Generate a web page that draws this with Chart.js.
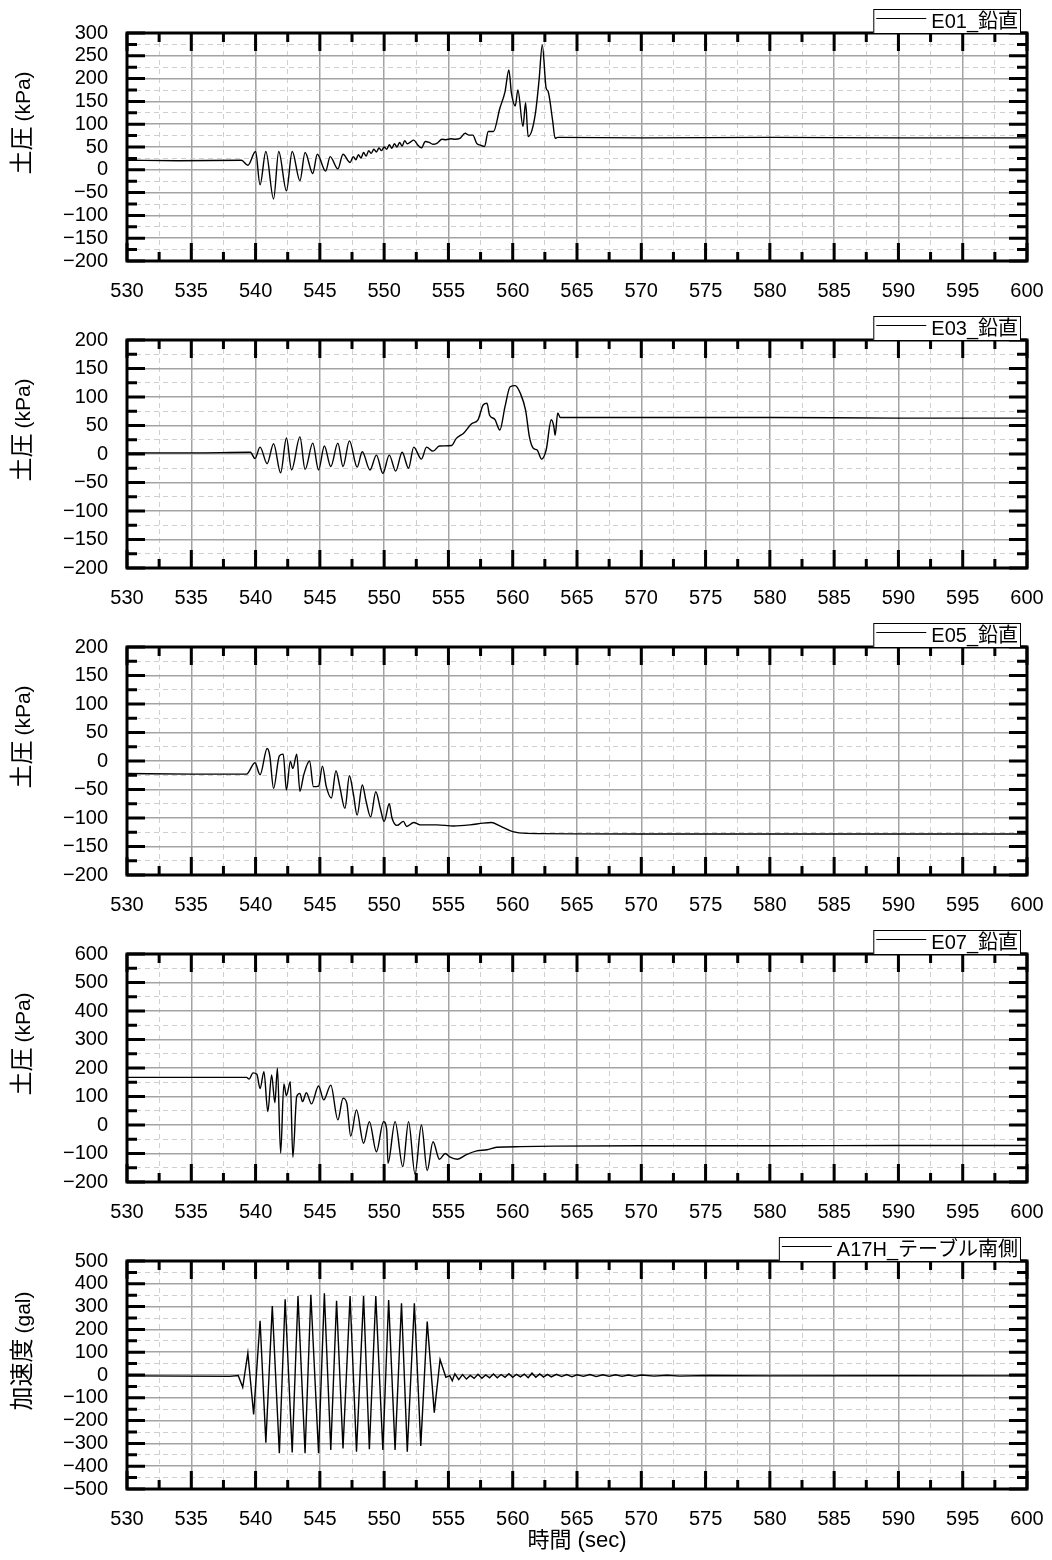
<!DOCTYPE html>
<html lang="ja">
<head>
<meta charset="UTF-8">
<title>土圧・加速度 時刻歴</title>
<script src="https://cdn.jsdelivr.net/npm/chart.js"></script>
<style>
  body { margin: 0; background: #fff; }
  .stack { position: relative; width: 1052px; height: 1560px; }
  .stack canvas { position: absolute; left: 0; }
</style>
</head>
<body>
<div class="stack" id="stack"></div>
<script>
// time window (sec)
const timeMin = 530;
const timeMax = 600;

const seriesLabels = ['E01_鉛直', 'E03_鉛直', 'E05_鉛直', 'E07_鉛直', 'A17H_テーブル南側'];
const axisNames = ['土圧', '土圧', '土圧', '土圧', '加速度'];
const axisUnits = ['(kPa)', '(kPa)', '(kPa)', '(kPa)', '(gal)'];
const yMins = [-200, -200, -200, -200, -500];
const yMaxs = [300, 200, 200, 600, 500];
const yLabelSteps = [50, 50, 50, 100, 100];

// E01 vertical earth pressure
const e01T = [530, 534, 538.9, 539.4, 540.0, 540.35, 540.8, 541.4, 541.8, 542.4, 542.85, 543.45, 543.85, 544.45, 544.8, 545.45, 545.8, 546.4, 546.8, 547.35,
  547.6, 547.8, 548.0, 548.2, 548.4, 548.6, 548.8, 549.0, 549.2, 549.4, 549.6, 549.8, 550.0, 550.2, 550.4, 550.6, 550.8, 551.0, 551.2, 551.4, 551.6, 551.8,
  552.0, 552.3, 552.6, 552.9, 553.2, 553.5, 553.8, 554.1, 554.5, 554.8, 555.2, 555.5, 555.9, 556.3, 556.6, 556.9, 557.2, 557.5, 557.8, 558.1, 558.5,
  559.0, 559.4, 559.7, 559.9, 560.2, 560.4, 560.8, 561.0, 561.2, 561.5, 561.8, 562.05, 562.3, 562.6, 562.75, 563.1, 563.3, 563.5, 570, 580, 590, 600];
const e01V = [21, 20, 21, 10, 40, -33, 40, -64, 40, -46, 40, -24, 38, -8, 34, -3, 29, 2, 34, 16,
  29, 22, 33, 26, 38, 30, 42, 36, 45, 39, 48, 42, 50, 45, 55, 47, 57, 50, 60, 52, 64, 57,
  60, 65, 55, 48, 62, 60, 56, 58, 67, 66, 68, 67, 69, 80, 76, 76, 58, 54, 51, 84, 84,
  135, 171, 219, 168, 140, 175, 95, 147, 73, 87, 131, 197, 274, 179, 172, 109, 69, 71, 70, 71, 70, 70];

// E03 vertical earth pressure
const e03T = [530, 535, 539.6, 539.95, 540.35, 540.9, 541.4, 541.95, 542.4, 542.8, 543.45, 543.85, 544.45, 544.9, 545.35, 545.85, 546.4, 546.8, 547.3, 547.9,
  548.3, 548.9, 549.4, 549.9, 550.4, 550.9, 551.4, 551.9, 552.3, 552.9, 553.3, 553.8, 554.3, 555.25, 555.6, 556.2, 556.8, 557.3, 557.7, 558.0, 558.2,
  558.6, 559.0, 559.4, 559.8, 560.2, 560.6, 561.0, 561.3, 561.6, 561.9, 562.25, 562.6, 563.0, 563.2, 563.3, 563.5, 563.7, 570, 580, 590, 600];
const e03V = [2, 2, 3, -8, 12, -17, 18, -33, 28, -28, 30, -27, 19, -28, 14, -22, 19, -22, 23, -23,
  4, -28, -2, -34, -2, -30, 3, -25, 12, -9, 12, 5, 14, 15, 27, 37, 53, 60, 86, 89, 68,
  61, 42, 83, 118, 120, 106, 77, 30, 10, 7, -9, 7, 60, 48, 33, 72, 64, 64, 64, 63, 63];

// E05 vertical earth pressure
const e05T = [530, 535, 539.3, 539.95, 540.35, 540.9, 541.1, 541.4, 541.85, 542.15, 542.4, 542.7, 542.9, 543.2, 543.45, 543.75, 544.2, 544.5, 544.9, 545.2,
  545.5, 545.9, 546.25, 546.55, 546.95, 547.3, 547.6, 547.9, 548.3, 548.6, 548.95, 549.35, 549.7, 550.0, 550.4, 550.6, 551.0, 551.5, 551.75, 552.3,
  552.8, 554.1, 555.4, 556.7, 557.7, 558.35, 559.0, 560.0, 561.1, 570, 580, 590, 600];
const e05V = [-22, -23, -23, -3, -24, 22, 10, -48, 9, 12, -51, -1, -13, 12, -53, -24, 0, -45, -44, -9,
  -45, -65, -17, -45, -83, -26, -57, -95, -42, -71, -98, -54, -83, -106, -75, -99, -113, -106, -115, -108,
  -112, -112, -114, -112, -109, -108, -114, -124, -127, -128, -128, -128, -128];

// E07 vertical earth pressure
const e07T = [530, 535, 539.3, 539.5, 539.8, 540.1, 540.35, 540.65, 540.95, 541.25, 541.5, 541.7, 541.95, 542.2, 542.4, 542.7, 542.9, 543.2, 543.45, 543.65,
  543.95, 544.35, 544.9, 545.3, 545.85, 546.4, 546.8, 547.1, 547.4, 547.85, 548.4, 548.85, 549.4, 549.95, 550.2, 550.3, 550.85, 551.45, 551.9, 552.4,
  552.9, 553.35, 553.8, 554.3, 554.75, 555.1, 555.7, 556.4, 557.2, 558.0, 558.75, 560.6, 563.2, 570, 580, 590, 600];
const e07V = [167, 167, 167, 161, 183, 178, 128, 187, 47, 176, 78, 199, -99, 144, 103, 152, -113, 100, 111, 82,
  113, 74, 137, 88, 140, 18, 94, 76, -39, 53, -64, 12, -94, 12, -17, -134, 12, -146, 12, -172,
  0, -160, -59, -120, -100, -112, -120, -104, -91, -87, -78, -76, -74, -73, -73, -72, -72];

// A17H table south side acceleration
const a17T = [530, 534, 538.0, 538.65, 539.0, 539.4, 539.85, 540.35, 540.8, 541.3, 541.85, 542.3, 542.85, 543.3, 543.85, 544.3, 544.9, 545.35, 545.85, 546.3,
  546.8, 547.35, 547.85, 548.4, 548.85, 549.35, 549.9, 550.35, 550.85, 551.35, 551.8, 552.35, 552.85, 553.35, 553.9, 554.35, 554.8, 555.1,
  555.3, 555.5, 555.8, 556.1, 556.4, 556.7, 557.0, 557.3, 557.6, 557.9, 558.2, 558.5, 558.8, 559.1, 559.4, 559.7, 560.0, 560.3, 560.6, 560.9,
  561.2, 561.5, 561.8, 562.1, 562.4, 562.7, 563.0, 563.4, 563.8, 564.2, 564.6, 565.0, 565.5, 566.0, 566.5, 567.0, 567.5, 568.0, 568.5, 569.0,
  569.5, 570.0, 571, 572, 573, 575, 580, 590, 600];
const a17V = [-4, -5, -6, -2, -54, 96, -173, 238, -297, 303, -343, 332, -340, 346, -343, 352, -343, 358, -329, 326,
  -322, 346, -336, 346, -326, 346, -329, 329, -329, 315, -336, 315, -311, 234, -165, 68, -10, -3,
  -25, 5, -20, 2, -18, -2, -15, 3, -14, 0, -12, 4, -12, 2, -10, 6, -10, 3, -8, 4,
  -12, 8, -10, 5, -9, 3, -8, 3, -7, 2, -8, 1, -6, 2, -7, 1, -6, 1, -6, 0,
  -6, 0, -5, -1, -5, -2, -4, -3, -4];

const seriesT = [e01T, e03T, e05T, e07T, a17T];
const seriesV = [e01V, e03V, e05V, e07V, a17V];

const FONT = '"Liberation Sans", "Noto Sans CJK JP", sans-serif';
const PANEL_H = 307;

function isMajor(v, step) {
  return Math.abs(v / step - Math.round(v / step)) < 1e-6;
}
function fmt(v) {
  return v < 0 ? '\u2212' + Math.abs(v) : String(v);
}

// thick frame, inward tick marks, axis title and boxed legend
const framePlugin = {
  id: 'frame',
  afterDatasetsDraw(chart, args, opts) {
    const { ctx, chartArea: a, scales: { x, y } } = chart;
    ctx.save();
    ctx.strokeStyle = '#000';
    ctx.lineWidth = 3;
    ctx.lineCap = 'butt';
    ctx.beginPath();
    x.ticks.forEach(t => {
      const px = x.getPixelForValue(t.value);
      const len = isMajor(t.value, 5) ? 18 : 9;
      ctx.moveTo(px, a.top); ctx.lineTo(px, a.top + len);
      ctx.moveTo(px, a.bottom); ctx.lineTo(px, a.bottom - len);
    });
    y.ticks.forEach(t => {
      const py = y.getPixelForValue(t.value);
      const len = isMajor(t.value, opts.labelStep) ? 18 : 10;
      ctx.moveTo(a.left, py); ctx.lineTo(a.left + len, py);
      ctx.moveTo(a.right, py); ctx.lineTo(a.right - len, py);
    });
    ctx.stroke();
    ctx.strokeRect(a.left, a.top, a.right - a.left, a.bottom - a.top);

    // y axis title, rotated: name then unit
    ctx.fillStyle = '#000';
    ctx.textBaseline = 'middle';
    ctx.textAlign = 'left';
    ctx.font = '24px ' + FONT;
    const nameW = ctx.measureText(opts.yName).width;
    ctx.font = '21px ' + FONT;
    const unitW = ctx.measureText(opts.yUnit).width;
    const total = nameW + 5 + unitW;
    ctx.translate(23, a.top + 90);
    ctx.rotate(-Math.PI / 2);
    ctx.font = '24px ' + FONT;
    ctx.fillText(opts.yName, -total / 2, 0);
    ctx.font = '21px ' + FONT;
    ctx.fillText(opts.yUnit, -total / 2 + nameW + 5, 1);
    ctx.setTransform(1, 0, 0, 1, 0, 0);

    // legend box sitting on the top frame
    const label = chart.data.datasets[0].label;
    ctx.font = '20px ' + FONT;
    const tw = ctx.measureText(label).width;
    const right = a.right - 7;
    const textX = right - 2 - tw;
    const lineL = textX - 55;
    const boxL = lineL - 3;
    ctx.lineWidth = 1;
    ctx.fillStyle = '#fff';
    ctx.fillRect(boxL, a.top - 24, right - boxL, 24);
    ctx.strokeRect(boxL + 0.5, a.top - 24 + 0.5, right - boxL, 24);
    ctx.beginPath();
    ctx.moveTo(lineL, a.top - 14.5); ctx.lineTo(lineL + 50, a.top - 14.5);
    ctx.stroke();
    ctx.fillStyle = '#000';
    ctx.fillText(label, textX, a.top - 11);
    ctx.restore();
  }
};

const stack = document.getElementById('stack');

seriesLabels.forEach((label, i) => {
  const last = i === seriesLabels.length - 1;
  const h = last ? 1560 - PANEL_H * i : PANEL_H;
  const canvas = document.createElement('canvas');
  canvas.width = 1052;
  canvas.height = h;
  canvas.style.top = (PANEL_H * i) + 'px';
  stack.appendChild(canvas);

  const step = yLabelSteps[i];
  const points = seriesT[i].map((t, k) => ({ x: t, y: seriesV[i][k] }));

  new Chart(canvas, {
    type: 'line',
    data: {
      datasets: [{
        label: label,
        data: points,
        borderColor: '#000',
        borderWidth: 1.4,
        pointRadius: 0,
        // pressure records are smooth, acceleration is a sharp zigzag
        cubicInterpolationMode: last ? 'default' : 'monotone',
        tension: last ? 0 : 0.4,
        fill: false
      }]
    },
    options: {
      responsive: false,
      animation: false,
      devicePixelRatio: 1,
      layout: { padding: { left: 0, right: 25, top: 33, bottom: 0 } },
      plugins: {
        legend: { display: false },
        tooltip: { enabled: false },
        frame: { yName: axisNames[i], yUnit: axisUnits[i], labelStep: step }
      },
      scales: {
        x: {
          type: 'linear',
          min: timeMin,
          max: timeMax,
          afterFit: s => { s.height = h - 261; s.paddingLeft = 0; s.paddingRight = 0; },
          ticks: {
            stepSize: 2.5,
            autoSkip: false,
            maxRotation: 0,
            padding: 18,
            color: '#000',
            font: { family: FONT, size: 20 },
            callback: v => isMajor(v, 5) ? String(v) : ''
          },
          grid: {
            drawTicks: false,
            color: c => isMajor(c.tick.value, 5) ? '#a3a3a3' : '#cfcfcf',
            lineWidth: c => isMajor(c.tick.value, 5) ? 1.5 : 1
          },
          border: {
            display: false,
            dash: c => isMajor(c.tick.value, 5) ? [] : [5, 4]
          },
          title: {
            display: last,
            text: '時間 (sec)',
            color: '#000',
            font: { family: FONT, size: 22 },
            padding: { top: 0, bottom: 6 }
          }
        },
        y: {
          min: yMins[i],
          max: yMaxs[i],
          afterFit: s => { s.width = 127; },
          ticks: {
            stepSize: step / 2,
            autoSkip: false,
            padding: 19,
            color: '#000',
            font: { family: FONT, size: 20 },
            callback: v => isMajor(v, step) ? fmt(v) : ''
          },
          grid: {
            drawTicks: false,
            color: c => isMajor(c.tick.value, step) ? '#a3a3a3' : '#cfcfcf',
            lineWidth: c => isMajor(c.tick.value, step) ? 1.5 : 1
          },
          border: {
            display: false,
            dash: c => isMajor(c.tick.value, step) ? [] : [5, 4]
          }
        }
      }
    },
    plugins: [framePlugin]
  });
});
</script>
</body>
</html>
